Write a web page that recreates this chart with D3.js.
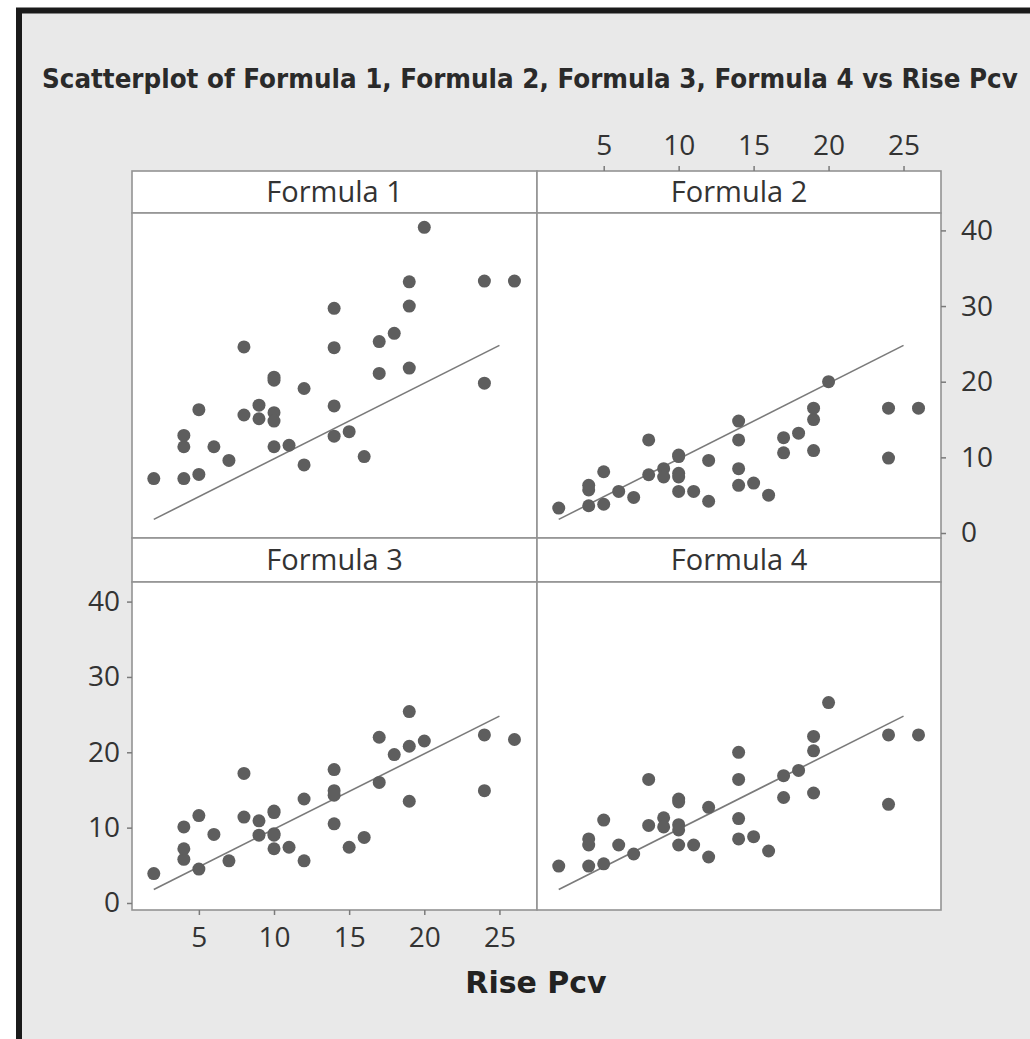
<!DOCTYPE html>
<html>
<head>
<meta charset="utf-8">
<script src="https://cdn.jsdelivr.net/npm/d3@7"></script>
<style>
  html, body { margin: 0; padding: 0; background: #ffffff; }
  svg { display: block; }
</style>
</head>
<body>
<svg id="chart" width="1030" height="1039"></svg>
<script>
// ---- data ----
const titleText = "Scatterplot of Formula 1, Formula 2, Formula 3, Formula 4 vs Rise Pcv";
const xLabel = "Rise Pcv";
const panelNames = ["Formula 1", "Formula 2", "Formula 3", "Formula 4"];
const xTicks = [5, 10, 15, 20, 25];
const yTicks = [0, 10, 20, 30, 40];

const riseX = [2, 4, 4, 4, 5, 5, 6, 7, 8, 8, 9, 9, 10, 10, 10, 10, 10, 11, 12, 12,
               14, 14, 14, 14, 15, 16, 17, 17, 18, 19, 19, 19, 20, 24, 24, 26];
const formula1 = [7.2, 7.2, 11.4, 12.9, 7.75, 16.3, 11.4, 9.6, 24.6, 15.6, 16.9, 15.1,
                  20.6, 20.2, 15.9, 14.8, 11.4, 11.6, 19.1, 9.0, 29.7, 24.5, 16.8, 12.8,
                  13.4, 10.1, 25.3, 21.1, 26.4, 33.2, 30.0, 21.8, 40.4, 33.3, 19.8, 33.3];
const formula2 = [3.3, 3.6, 5.7, 6.3, 3.8, 8.1, 5.5, 4.7, 12.3, 7.7, 8.5, 7.4,
                  10.3, 10.1, 7.9, 7.4, 5.5, 5.5, 9.6, 4.2, 14.8, 12.3, 8.5, 6.3,
                  6.6, 5.0, 12.6, 10.6, 13.2, 16.5, 15.0, 10.9, 20.0, 16.5, 9.9, 16.5];
const formula3 = [3.9, 5.8, 7.2, 10.1, 4.5, 11.6, 9.1, 5.6, 17.2, 11.4, 10.9, 9.0,
                  12.2, 12.0, 9.2, 9.0, 7.2, 7.4, 13.8, 5.6, 17.7, 14.9, 14.3, 10.5,
                  7.4, 8.7, 22.0, 16.0, 19.7, 25.4, 20.8, 13.5, 21.5, 22.3, 14.9, 21.7];
const formula4 = [4.9, 4.9, 7.7, 8.5, 5.2, 11.0, 7.7, 6.5, 16.4, 10.3, 11.3, 10.1,
                  13.8, 13.4, 10.4, 9.7, 7.7, 7.7, 12.7, 6.1, 20.0, 16.4, 11.2, 8.5,
                  8.8, 6.9, 16.9, 14.0, 17.6, 22.1, 20.2, 14.6, 26.6, 22.3, 13.1, 22.3];
const refLineX = [2, 25];
const refLineY = [1.8, 24.8];

// ---- layout ----
const svg = d3.select("#chart");
const colX = [[132, 537], [537, 941]];
const rows = [
  { stripTop: 171, top: 213, bottom: 538, domain: [-0.66, 42.3] },
  { stripTop: 538, top: 582, bottom: 910, domain: [-0.93, 42.6] }
];
const xDomain = [0.55, 27.5];
const dotColor = "#5e5e5e";
const frameColor = "#939393";
const textColor = "#333333";
const tickFont = "'Open Sans', 'DejaVu Sans', sans-serif";

// page frame
svg.append("rect").attr("x", 0).attr("y", 0).attr("width", 1030).attr("height", 1039).attr("fill", "#ffffff");
svg.append("rect").attr("x", 19).attr("y", 10.5).attr("width", 1100).attr("height", 1100)
  .attr("fill", "#e9e9e9").attr("stroke", "#1a1a1a").attr("stroke-width", 6);

// title (horizontally condensed to fit the frame)
const title = svg.append("text").attr("x", 0).attr("y", 0)
  .attr("font-family", "'DejaVu Sans', sans-serif").attr("font-weight", "bold")
  .attr("font-size", 27).attr("fill", "#2a2a2a")
  .text(titleText);
const natural = title.node().getComputedTextLength();
const sx = Math.min(1, 976 / natural);
title.attr("transform", `translate(42,88) scale(${sx},1)`);

const yValues = [formula1, formula2, formula3, formula4];

panelNames.forEach((name, i) => {
  const r = rows[Math.floor(i / 2)];
  const c = colX[i % 2];
  const x = d3.scaleLinear().domain(xDomain).range(c);
  const y = d3.scaleLinear().domain(r.domain).range([r.bottom, r.top]);
  const g = svg.append("g");

  // strip
  g.append("rect").attr("x", c[0]).attr("y", r.stripTop).attr("width", c[1] - c[0])
    .attr("height", r.top - r.stripTop).attr("fill", "#ffffff")
    .attr("stroke", frameColor).attr("stroke-width", 1.6);
  g.append("text").attr("x", (c[0] + c[1]) / 2).attr("y", (r.stripTop + r.top) / 2 + 10)
    .attr("text-anchor", "middle").attr("font-family", tickFont)
    .attr("font-size", 29).attr("fill", textColor).text(name);

  // panel
  g.append("rect").attr("x", c[0]).attr("y", r.top).attr("width", c[1] - c[0])
    .attr("height", r.bottom - r.top).attr("fill", "#ffffff")
    .attr("stroke", frameColor).attr("stroke-width", 1.6);

  // reference line
  const line = d3.line().x(d => x(d[0])).y(d => y(d[1]));
  g.append("path").datum(refLineX.map((v, k) => [v, refLineY[k]]))
    .attr("d", line).attr("fill", "none").attr("stroke", "#7a7a7a").attr("stroke-width", 1.6);

  // points
  g.selectAll("circle").data(riseX.map((v, k) => [v, yValues[i][k]])).join("circle")
    .attr("cx", d => x(d[0])).attr("cy", d => y(d[1])).attr("r", 6.5)
    .attr("fill", dotColor);

  // axes
  function styleAxis(sel) {
    sel.select(".domain").remove();
    sel.selectAll(".tick line").attr("stroke", "#7a7a7a").attr("stroke-width", 1.5);
    sel.selectAll(".tick text").attr("font-family", tickFont).attr("font-size", 28).attr("fill", textColor);
  }
  if (i === 2) {
    g.append("g").attr("transform", `translate(${c[0]},0)`)
      .call(d3.axisLeft(y).tickValues(yTicks).tickSize(5).tickPadding(7)).call(styleAxis);
    g.append("g").attr("transform", `translate(0,${r.bottom})`)
      .call(d3.axisBottom(x).tickValues(xTicks).tickSize(5).tickPadding(12)).call(styleAxis);
  }
  if (i === 1) {
    g.append("g").attr("transform", `translate(${c[1]},0)`)
      .call(d3.axisRight(y).tickValues(yTicks).tickSize(5).tickPadding(15)).call(styleAxis);
    g.append("g").attr("transform", `translate(0,${r.stripTop})`)
      .call(d3.axisTop(x).tickValues(xTicks).tickSize(5).tickPadding(11)).call(styleAxis);
  }
});

// x axis title
svg.append("text").attr("x", 536).attr("y", 993).attr("text-anchor", "middle")
  .attr("font-family", "'DejaVu Sans', sans-serif").attr("font-weight", "bold")
  .attr("font-size", 30).attr("fill", "#222222").text(xLabel);
</script>
</body>
</html>
